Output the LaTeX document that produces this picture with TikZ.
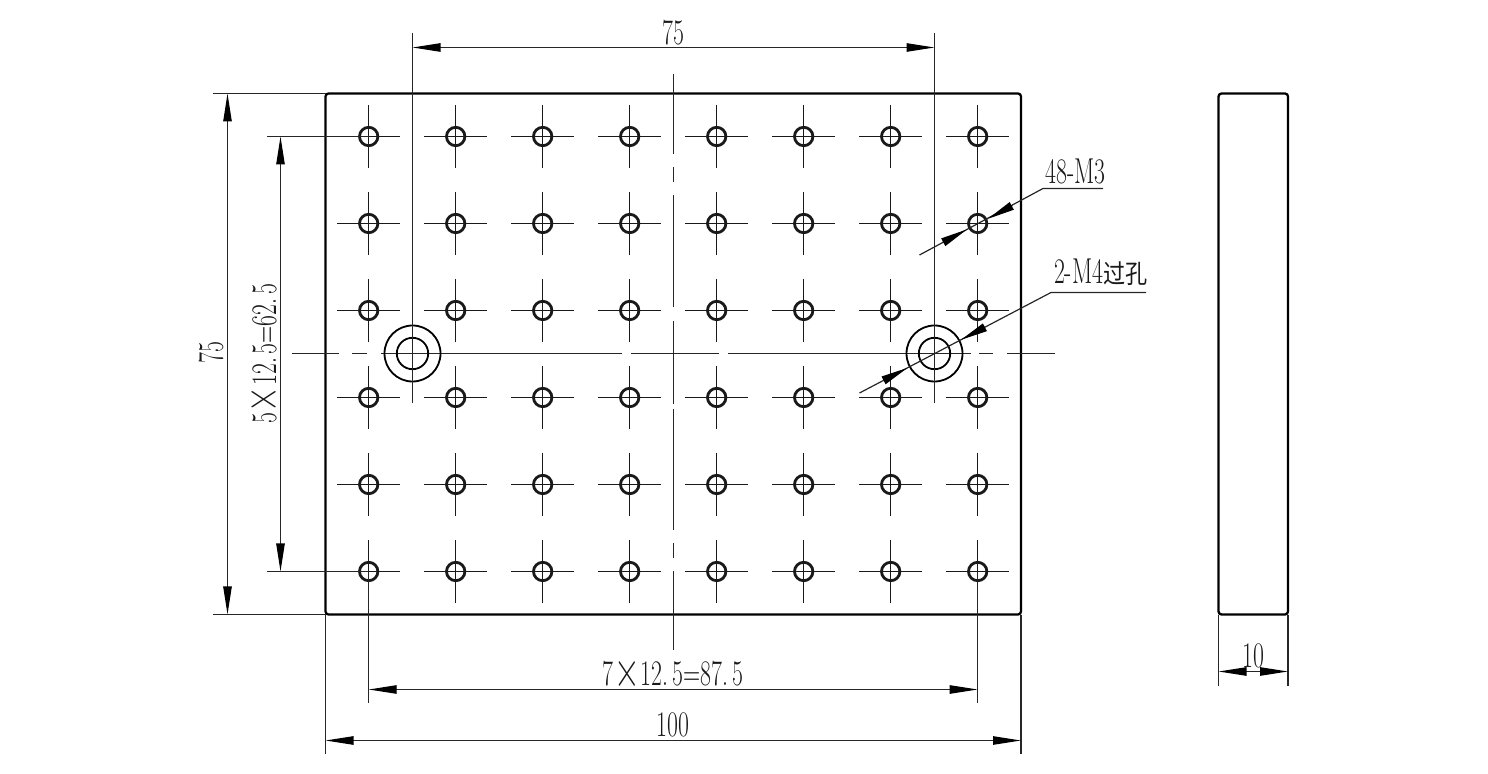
\documentclass[tikz,border=0pt]{standalone}
\usepackage{graphicx}
\usepackage{fontspec}
\newfontfamily\cjk{Noto Sans CJK SC}
\usetikzlibrary{arrows.meta}
\newcommand{\dimtext}[1]{\scalebox{0.66}[1]{\fontsize{18}{18}\selectfont #1}}
\newcommand{\bigtimes}{\kern0.5pt\raisebox{-0.1ex}{\scalebox{1.5}{×}}\kern0.5pt}
\tikzset{
  thin line/.style={line width=0.6pt,draw=black!85},
  outline/.style={line width=1.15pt,draw=black,rounded corners=1.5pt},
  hole/.style={line width=1.4pt,draw=black!90},
  bore/.style={line width=0.9pt,draw=black},
  arm/.style={line width=0.6pt,draw=black!90},
  dim/.style={thin line,{Triangle[length=14pt,width=4.2pt,fill=black,color=black]}-{Triangle[length=14pt,width=4.2pt,fill=black,color=black]}},
  head/.style={thin line,-{Triangle[length=13.5pt,width=4.2pt,fill=black,color=black]}},
  label/.style={inner sep=0pt,outer sep=0pt,text=black!90}
}
\begin{document}
\begin{tikzpicture}[x=0.5pt,y=-0.5pt]
\useasboundingbox (0,0) rectangle (1488,774);
% outlines
\draw[outline] (325.5,93.5) rectangle (1021,614.5);
\draw[outline] (1218.5,93.5) rectangle (1288,614.5);
% small holes
\foreach \y in {136.5,223.5,310.5,397.5,484.5,571.5}{
  \foreach \x in {368.7,455.7,542.7,629.7,716.7,803.7,890.7,977.7}{
    \draw[arm] (\x-31.5,\y) -- (\x+31.5,\y);
    \draw[arm] (\x,\y-31.5) -- (\x,\y+31.5);
    \draw[hole] (\x,\y) circle[radius=9.2];
  }
}
% centre lines
\foreach \a/\b in {74/154.5,167/182,195/307,321/404,409/530,543/558,571/650}
  \draw[thin line] (673.5,\a) -- (673.5,\b);
\foreach \a/\b in {292/339,352/367,381/622,631/719,728/971,979/993,1007/1055}
  \draw[thin line] (\a,353.5) -- (\b,353.5);
% through holes
\coordinate (bl) at (412.5,353.5);
\coordinate (br) at (934.5,353.5);
\foreach \c in {bl,br}{
  \draw[bore] (\c) circle[radius=28];
  \draw[bore] (\c) circle[radius=15.7];
}
% extension lines
\coordinate (e1t) at (412.5,33);   \coordinate (e1b) at (412.5,403);
\coordinate (e2t) at (934.5,33);   \coordinate (e2b) at (934.5,403);
\draw[thin line] (e1t) -- (e1b);
\draw[thin line] (e2t) -- (e2b);
\coordinate (e3l) at (213,93.5);  \coordinate (e3r) at (325.5,93.5);
\coordinate (e4l) at (213,614.5); \coordinate (e4r) at (325.5,614.5);
\draw[thin line] (e3l) -- (e3r);
\draw[thin line] (e4l) -- (e4r);
\coordinate (e5l) at (267,136.5); \coordinate (e5r) at (368.7,136.5);
\coordinate (e6l) at (267,571.5);   \coordinate (e6r) at (368.7,571.5);
\draw[thin line] (e5l) -- (e5r);
\draw[thin line] (e6l) -- (e6r);
\coordinate (e7t) at (368.7,571.5); \coordinate (e7b) at (368.7,703);
\coordinate (e8t) at (977.7,571.5); \coordinate (e8b) at (977.7,703);
\draw[thin line] (e7t) -- (e7b);
\draw[thin line] (e8t) -- (e8b);
\coordinate (e9t) at (325.5,614.5);  \coordinate (e9b) at (325.5,754);
\coordinate (e10t) at (1021,614.5);  \coordinate (e10b) at (1021,754);
\draw[thin line] (e9t) -- (e9b);
\draw[thin line] (e10t) -- (e10b);
\coordinate (e11t) at (1218.5,614.5); \coordinate (e11b) at (1218.5,686);
\coordinate (e12t) at (1288,614.5);   \coordinate (e12b) at (1288,686);
\draw[thin line] (e11t) -- (e11b);
\draw[thin line] (e12t) -- (e12b);
% dimensions
\coordinate (d1a) at (412.5,47.5);    \coordinate (d1b) at (934.5,47.5);
\draw[dim] (d1a) -- (d1b);
\coordinate (d2a) at (227.5,93.5);  \coordinate (d2b) at (227.5,614.5);
\draw[dim] (d2a) -- (d2b);
\coordinate (d3a) at (280.5,136.5); \coordinate (d3b) at (280.5,571.5);
\draw[dim] (d3a) -- (d3b);
\coordinate (d4a) at (368.7,689.5); \coordinate (d4b) at (977.7,689.5);
\draw[dim] (d4a) -- (d4b);
\coordinate (d5a) at (325.5,740.5); \coordinate (d5b) at (1021,740.5);
\draw[dim] (d5a) -- (d5b);
\coordinate (d6a) at (1218.5,671.5); \coordinate (d6b) at (1288,671.5);
\draw[dim] (d6a) -- (d6b);
% leaders
\coordinate (l1a) at (919.5,255); \coordinate (l1b) at (1043,188.5); \coordinate (l1c) at (1103,188.5);
\draw[thin line] (l1a) -- (l1b) -- (l1c);
\coordinate (h1a) at (1012.5,205.5); \coordinate (h1b) at (988,218.8);
\coordinate (h2a) at (943,242.4); \coordinate (h2b) at (967,229.4);
\draw[head] (h1a) -- (h1b);
\draw[head] (h2a) -- (h2b);
\coordinate (l2a) at (859.5,393); \coordinate (l2b) at (1051,292.5); \coordinate (l2c) at (1146,292.5);
\draw[thin line] (l2a) -- (l2b) -- (l2c);
\coordinate (h3a) at (984.5,327.5); \coordinate (h3b) at (961,339.8);
\coordinate (h4a) at (883,380.7); \coordinate (h4b) at (907.5,367.9);
\draw[head] (h3a) -- (h3b);
\draw[head] (h4a) -- (h4b);
% labels
\node[label] (t1) at (673,33) {\dimtext{75}};
\node[label,rotate=90] (t2) at (211,353) {\dimtext{75}};
\node[label,rotate=90] (t3) at (264.5,353.5) {\dimtext{5\bigtimes 12.\,5=62.\,5}};
\node[label] (t4) at (673,674) {\dimtext{7\bigtimes 12.\,5=87.\,5}};
\node[label] (t5) at (673,724.5) {\dimtext{100}};
\node[label] (t6) at (1253,655.5) {\dimtext{10}};
\node[label] (t7) at (1075.5,172) {\dimtext{48-M3}};
\node[label,anchor=west] (t8) at (1054,272) {\dimtext{2-M4}\scalebox{0.85}[1]{\fontsize{13}{13}\cjk 过孔}};
\end{tikzpicture}
\end{document}
